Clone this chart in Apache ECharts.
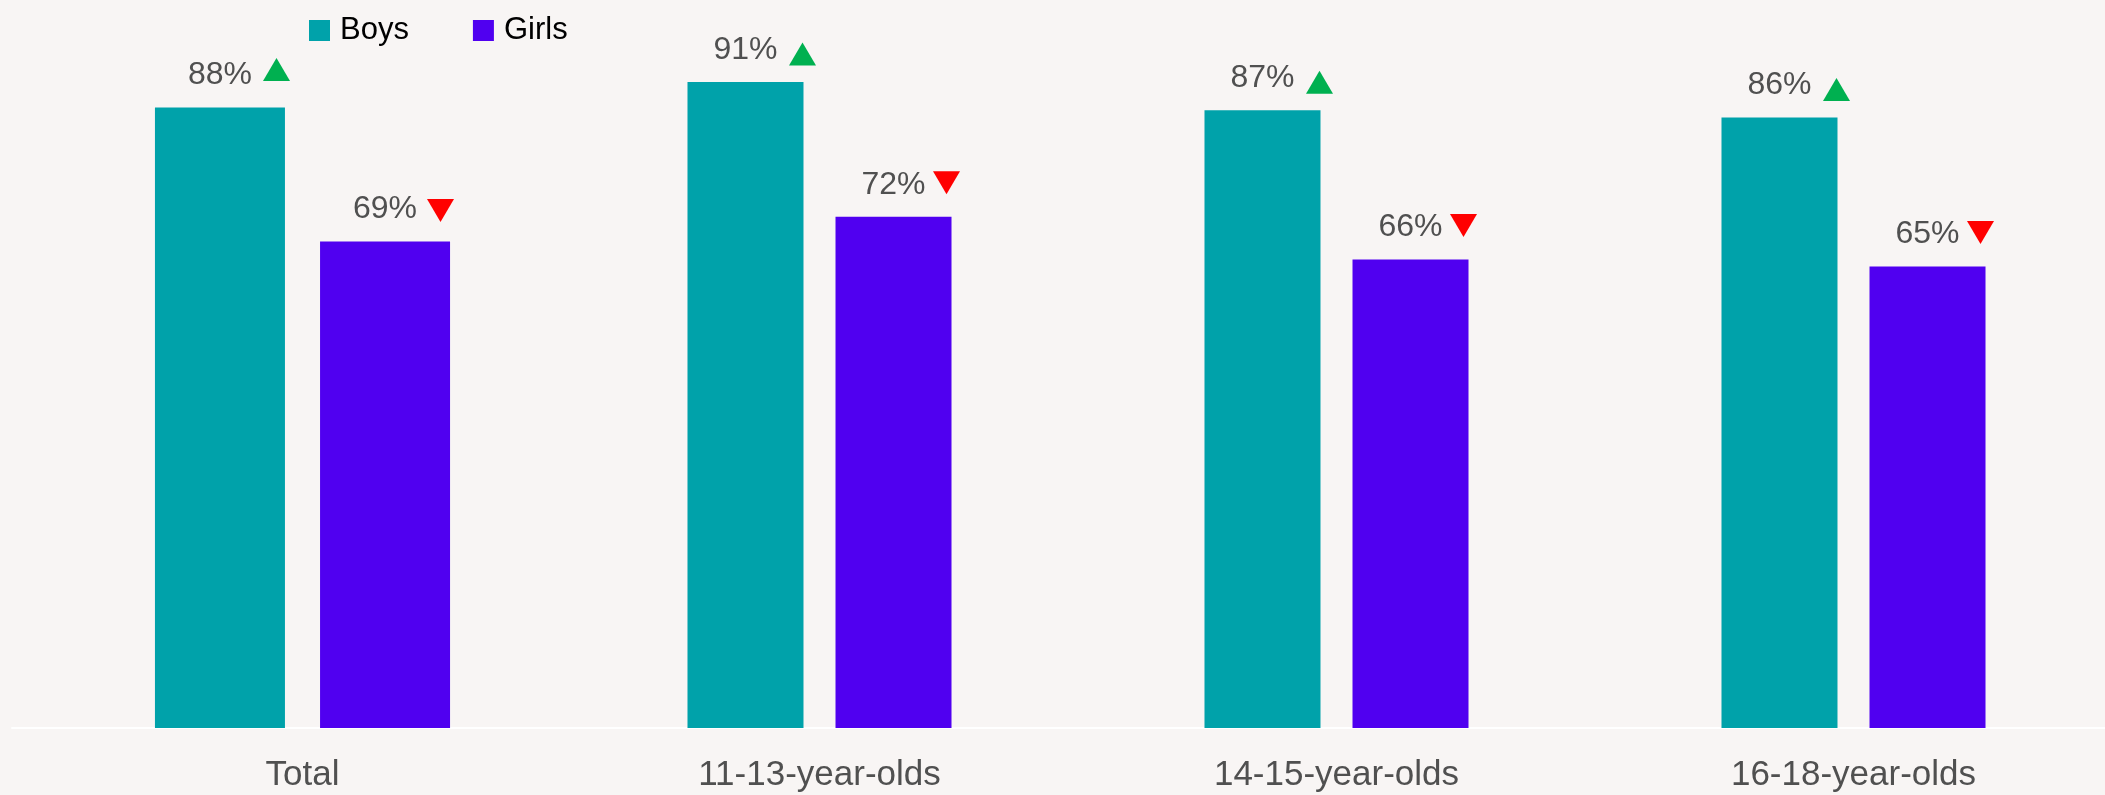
<!DOCTYPE html>
<html>
<head>
<meta charset="utf-8">
<script src="https://cdn.jsdelivr.net/npm/echarts@6/dist/echarts.min.js"></script>
<style>
  html, body { margin: 0; padding: 0; background: #f8f5f4; }
  #chart { width: 2105px; height: 795px; }
</style>
</head>
<body>
<div id="chart"></div>
<script>
const categories = ['Total', '11-13-year-olds', '14-15-year-olds', '16-18-year-olds']
const boys = [88, 91, 87, 86]
const girls = [69, 72, 66, 65]
// direction of change shown next to each value
const boysTrend = ['up', 'up', 'up', 'up']
const girlsTrend = ['down', 'down', 'down', 'down']

const colors = {
  boys: '#00a2aa',
  girls: '#5000f0',
  up: '#00b050',
  down: '#ff0000',
  text: '#505050',
  bg: '#f8f5f4'
}

const chart = echarts.init(document.getElementById('chart'))

const valueLabel = {
  show: true,
  position: 'top',
  distance: 16,
  formatter: '{c}%',
  fontFamily: 'Liberation Sans',
  fontSize: 32,
  color: colors.text
}

const barSeries = (name, data, gridIdx, width, gap) => ({
  name: name,
  type: 'bar',
  xAxisIndex: gridIdx,
  yAxisIndex: gridIdx,
  barWidth: width,
  barGap: gap,
  itemStyle: { color: name === 'Boys' ? colors.boys : colors.girls },
  label: valueLabel,
  data: data
})

// small triangle markers placed at the top of each bar
const trendSeries = (data, trend, gridIdx, offset) => ({
  name: 'trend',
  type: 'scatter',
  xAxisIndex: gridIdx,
  yAxisIndex: gridIdx,
  symbol: 'triangle',
  symbolSize: [27, 23],
  symbolOffset: offset,
  z: 5,
  silent: true,
  data: data.map((v, i) => ({
    value: v,
    symbolRotate: trend[i] === 'up' ? 0 : 180,
    itemStyle: { color: trend[i] === 'up' ? colors.up : colors.down, opacity: 1 }
  }))
})

const xAxisBase = (gridIdx, data) => ({
  type: 'category',
  gridIndex: gridIdx,
  data: data,
  axisLine: { lineStyle: { color: '#ffffff', width: 2 } },
  axisTick: { show: false },
  axisLabel: {
    fontFamily: 'Liberation Sans',
    fontSize: 35,
    color: colors.text,
    margin: 30
  }
})

const yAxisBase = (gridIdx) => ({
  type: 'value',
  gridIndex: gridIdx,
  min: 0,
  max: 100,
  show: false
})

const option = {
  backgroundColor: colors.bg,
  animation: false,
  legend: {
    data: ['Boys', 'Girls'],
    left: 304,
    top: 10,
    icon: 'rect',
    itemWidth: 21,
    itemHeight: 21,
    itemGap: 64,
    textStyle: {
      fontFamily: 'Liberation Sans',
      fontSize: 31,
      color: '#000000',
      padding: [0, 0, 0, 5]
    }
  },
  grid: [
    { left: 12, width: 581, top: 23, bottom: 67, outerBoundsMode: 'none' },
    { left: 561, width: 1551, top: 18, bottom: 67, outerBoundsMode: 'none' }
  ],
  xAxis: [
    xAxisBase(0, categories.slice(0, 1)),
    xAxisBase(1, categories.slice(1))
  ],
  yAxis: [yAxisBase(0), yAxisBase(1)],
  series: [
    barSeries('Boys', boys.slice(0, 1), 0, 130, '27%'),
    barSeries('Girls', girls.slice(0, 1), 0, 130, '27%'),
    barSeries('Boys', boys.slice(1), 1, 116, '27.6%'),
    barSeries('Girls', girls.slice(1), 1, 116, '27.6%'),
    trendSeries(boys.slice(0, 1), boysTrend.slice(0, 1), 0, [-26, -38]),
    trendSeries(girls.slice(0, 1), girlsTrend.slice(0, 1), 0, [138, -31]),
    trendSeries(boys.slice(1), boysTrend.slice(1), 1, [-17, -28]),
    trendSeries(girls.slice(1), girlsTrend.slice(1), 1, [127, -34])
  ]
}

chart.setOption(option)

window.addEventListener('resize', () => {
  chart && chart.resize()
})
</script>
</body>
</html>
